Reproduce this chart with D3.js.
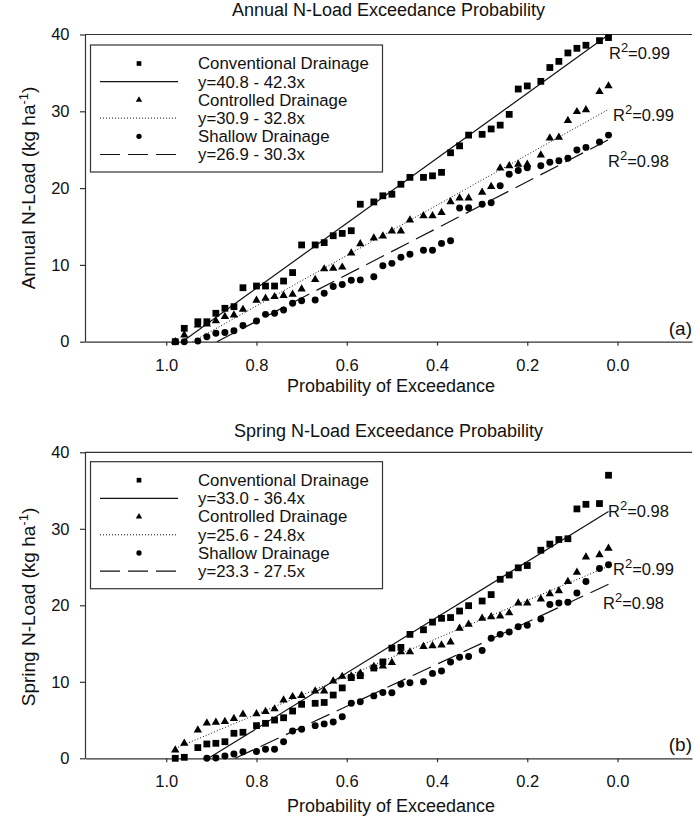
<!DOCTYPE html>
<html><head><meta charset="utf-8">
<script src="https://cdn.jsdelivr.net/npm/d3@7"></script>
<style>
body{margin:0;background:#fff}
svg{display:block}
text{font-family:"Liberation Sans",Arial,sans-serif;fill:#111}
</style>
</head><body>
<svg id="chart" width="694" height="822"></svg>
<script>
// ---------------- DATA ----------------
const probs = [0.98,0.96,0.93,0.91,0.89,0.87,0.85,0.83,0.80,0.78,0.76,0.74,0.72,0.70,0.67,0.65,0.63,0.61,0.59,0.57,0.54,0.52,0.50,0.48,0.46,0.43,0.41,0.39,0.37,0.35,0.33,0.30,0.28,0.26,0.24,0.22,0.20,0.17,0.15,0.13,0.11,0.09,0.07,0.04,0.02];

const annualConventional = [0,1.74,2.6,2.6,3.7,4.35,4.56,7.03,7.25,7.25,7.25,7.9,9.0,12.6,12.6,12.9,13.8,14.1,14.45,17.9,18.2,19.0,19.2,20.5,21.4,21.4,21.6,22.05,24.6,25.5,26.9,27.0,27.7,28.2,29.6,32.9,33.3,33.9,35.7,36.5,37.6,38.2,38.6,39.2,39.6];
const annualControlled = [0,0.87,2.17,2.3,2.7,3.26,3.47,4.2,5.4,5.65,5.86,6.0,6.17,6.86,8.1,9.47,9.55,9.7,11.55,12.75,13.5,13.76,14.4,14.4,15.85,16.4,16.4,16.8,18.2,18.7,18.7,19.45,20.2,22.6,22.9,23.1,23.1,24.3,26.5,26.6,28.8,29.95,30.2,32.55,33.3];
const annualShallow = [0,0,0.1,0.65,1.1,1.2,1.43,2.1,2.7,3.56,3.7,4.13,5.0,5.34,5.43,6.3,7.2,7.45,8.0,8.05,8.46,9.9,10.2,11.0,11.4,11.9,11.9,12.8,13.15,17.4,17.45,17.9,18.1,20.3,21.8,22.3,22.65,22.9,23.36,23.57,23.9,24.96,25.3,26.0,26.9];

const springConventional = [0,0.13,1.4,1.87,1.96,2.17,3.27,3.4,4.27,4.57,5.0,5.3,6.18,7.06,7.19,7.3,8.27,9.2,10.55,10.8,11.8,12.6,14.4,14.5,16.2,16.8,17.8,18.3,18.4,19.25,19.95,20.56,21.4,23.4,23.96,24.9,25.2,27.2,28.0,28.6,28.7,32.6,33.2,33.3,37.0];
const springControlled = [1.08,1.96,3.7,4.6,4.7,4.8,5.2,5.75,5.8,6.1,6.45,7.6,8.05,8.2,8.8,8.8,10.1,10.7,10.75,11.1,12.0,12.06,12.5,13.9,13.9,14.6,14.7,14.8,15.2,17.0,17.5,18.3,18.5,18.6,19.0,20.3,20.3,20.8,21.5,21.9,23.1,24.3,26.3,26.6,27.45];
const springShallow = [null,null,null,0,0.05,0.3,0.56,0.85,0.9,1.18,1.18,2.17,3.57,3.79,4.27,4.5,4.75,5.44,7.19,7.4,8.16,8.6,8.58,9.67,9.88,10.0,11.1,11.4,12.6,13.2,13.3,14.1,15.7,16.2,16.5,17.2,17.4,18.2,20.1,20.3,20.4,21.6,23.1,24.8,25.3];

const seriesNames = ["Conventional Drainage","Controlled Drainage","Shallow Drainage"];
const annualFits = [[40.8,42.3],[30.9,32.8],[26.9,30.3]];
const springFits = [[33.0,36.4],[25.6,24.8],[23.3,27.5]];
const annualR2 = ["0.99","0.99","0.98"];
const springR2 = ["0.98","0.99","0.98"];
const xTicks = [1.0,0.8,0.6,0.4,0.2,0.0];
const yTicks = [0,10,20,30,40];
const titles = ["Annual N-Load Exceedance Probability","Spring N-Load Exceedance Probability"];
const yLabels = ["Annual N-Load","Spring N-Load"];
const xLabel = "Probability of Exceedance";
const panelTags = ["(a)","(b)"];

// ---------------- DRAW ----------------
const svg = d3.select("#chart");
const symbols = [d3.symbolSquare, d3.symbolTriangle, d3.symbolCircle];
const symSizes = [46, 30, 38];
const legSymSizes = [22, 18, 22];
const dashes = [null, "1,2", "20,8"];
const FONT = '"Liberation Sans",Arial,sans-serif';

const panels = [
  {y0:341.7, y1:34.5, titleY:16, xLabY:392, yLabCY:188, legTop:45,
   series:[annualConventional, annualControlled, annualShallow], fits:annualFits, r2:annualR2,
   r2Anchors:[[0.019,36.8],[0.01,28.7],[0.021,22.8]]},
  {y0:758.3, y1:452.3, titleY:437, xLabY:812, yLabCY:607, legTop:461.7,
   series:[springConventional, springControlled, springShallow], fits:springFits, r2:springR2,
   r2Anchors:[[0.021,31.5],[0.01,24.0],[0.032,19.5]]}
];

const x = d3.scaleLinear().domain([1.18, -0.165]).range([85, 692]);

panels.forEach((P, pi) => {
  const y = d3.scaleLinear().domain([0, 40]).range([P.y0, P.y1]);
  const g = svg.append("g");

  // axes
  const xa = g.append("g").attr("transform", `translate(0,${P.y0})`)
    .call(d3.axisBottom(x).tickValues(xTicks).tickFormat(d3.format(".1f"))
      .tickSizeInner(4).tickSizeOuter(0).tickPadding(13.4));
  const ya = g.append("g").attr("transform", `translate(85,0)`)
    .call(d3.axisLeft(y).tickValues(yTicks).tickFormat(d3.format("d"))
      .tickSizeInner(5).tickSizeOuter(0).tickPadding(10.5));
  [xa, ya].forEach(a => {
    a.selectAll("path,line").attr("stroke", "#333").attr("stroke-width", 1.2);
    a.selectAll("text").attr("font-size", 16.5).attr("font-family", FONT).attr("fill", "#111");
  });
  // top frame line
  g.append("line").attr("x1", 85).attr("x2", 692).attr("y1", y(40)).attr("y2", y(40))
    .attr("stroke", "#333").attr("stroke-width", 1.2);

  // title
  g.append("text").attr("x", 388.5).attr("y", P.titleY).attr("text-anchor", "middle")
    .attr("font-size", 18).text(titles[pi]);
  // x label
  g.append("text").attr("x", 391).attr("y", P.xLabY).attr("text-anchor", "middle")
    .attr("font-size", 18).text(xLabel);
  // y label
  const yl = g.append("text").attr("transform", `translate(35,${P.yLabCY}) rotate(-90)`)
    .attr("text-anchor", "middle").attr("font-size", 19);
  yl.append("tspan").text(yLabels[pi] + " (kg ha");
  yl.append("tspan").attr("font-size", 13).attr("dy", -7).text("-1");
  yl.append("tspan").attr("dy", 7).text(")");

  // panel tag
  g.append("text").attr("x", 692).attr("y", P.y0 - 7).attr("text-anchor", "end")
    .attr("font-size", 19).text(panelTags[pi]);

  // fit lines
  const pMax = d3.max(probs), pMin = d3.min(probs);
  P.fits.forEach((f, si) => {
    const pStart = Math.min(pMax, f[0] / f[1]);
    const pts = [pStart, pMin].map(p => [x(p), y(f[0] - f[1] * p)]);
    const ln = g.append("path").attr("d", d3.line()(pts)).attr("fill", "none")
      .attr("stroke", "#111").attr("stroke-width", si === 1 ? 1 : 1.2);
    if (dashes[si]) ln.attr("stroke-dasharray", dashes[si]);
  });

  // points
  P.series.forEach((vals, si) => {
    const data = probs.map((p, i) => ({p, v: vals[i]})).filter(d => d.v !== null);
    g.append("g").selectAll("path").data(data).join("path")
      .attr("transform", d => `translate(${x(d.p)},${y(d.v)})`)
      .attr("d", d3.symbol(symbols[si], symSizes[si]))
      .attr("fill", "#000");
  });

  // R^2 labels
  P.r2.forEach((r, si) => {
    const a = P.r2Anchors[si];
    const t = g.append("text").attr("x", x(a[0])).attr("y", y(a[1])).attr("font-size", 16.5);
    t.append("tspan").text("R");
    t.append("tspan").attr("font-size", 13).attr("dy", -7).text("2");
    t.append("tspan").attr("dy", 7).text("=" + r);
  });

  // legend
  const L = g.append("g");
  L.append("rect").attr("x", 90.5).attr("y", P.legTop).attr("width", 292).attr("height", 127)
    .attr("fill", "#fff").attr("stroke", "#333").attr("stroke-width", 1.2);
  seriesNames.forEach((name, si) => {
    const cy1 = P.legTop + 18.5 + si * 2 * 18.2;
    const cy2 = cy1 + 18.2;
    L.append("path").attr("transform", `translate(139,${cy1})`)
      .attr("d", d3.symbol(symbols[si], legSymSizes[si])).attr("fill", "#000");
    const ln = L.append("line").attr("x1", 100).attr("x2", 178).attr("y1", cy2).attr("y2", cy2)
      .attr("stroke", "#111").attr("stroke-width", si === 1 ? 1 : 1.2);
    if (dashes[si]) ln.attr("stroke-dasharray", dashes[si]);
    L.append("text").attr("x", 198).attr("y", cy1 + 5.8).attr("font-size", 16.8).text(name);
    const f = P.fits[si];
    L.append("text").attr("x", 198).attr("y", cy2 + 5.8).attr("font-size", 16.8)
      .text(`y=${f[0].toFixed(1)} - ${f[1].toFixed(1)}x`);
  });
});
</script>
</body></html>
